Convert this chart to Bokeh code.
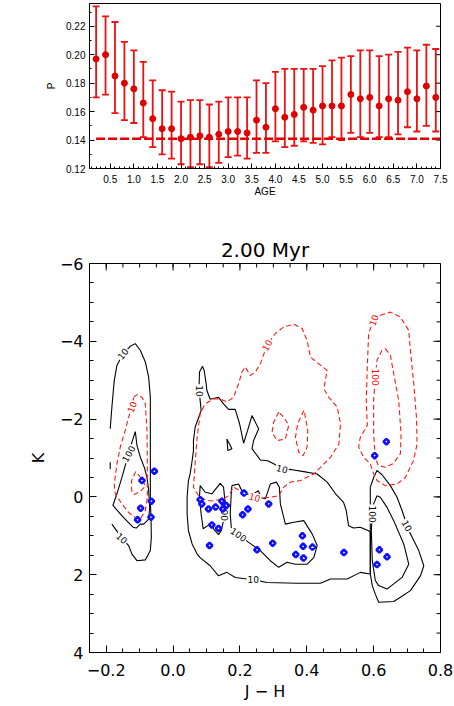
import numpy as np
from bokeh.plotting import figure
from bokeh.models import Range1d, FixedTicker, Whisker, ColumnDataSource, TeeHead
from bokeh.layouts import column
from bokeh.embed import file_html
from bokeh.resources import INLINE
from bokeh.core.properties import value

nan = float("nan")

# ---------------- top panel data ----------------
age = [0.2, 0.4, 0.6, 0.8, 1.0, 1.2, 1.4, 1.6, 1.8, 2.0, 2.2, 2.4, 2.6, 2.8, 3.0, 3.2, 3.4, 3.6, 3.8,
       4.0, 4.2, 4.4, 4.6, 4.8, 5.0, 5.2, 5.4, 5.6, 5.8, 6.0, 6.2, 6.4, 6.6, 6.8, 7.0, 7.2, 7.4]
p_mean = [0.197, 0.200, 0.185, 0.180, 0.176, 0.166, 0.155, 0.148, 0.148, 0.141, 0.142, 0.143, 0.142,
          0.144, 0.146, 0.146, 0.145, 0.154, 0.149, 0.162, 0.156, 0.158, 0.163, 0.161, 0.164, 0.164,
          0.164, 0.172, 0.169, 0.170, 0.164, 0.169, 0.168, 0.174, 0.169, 0.178, 0.170]
p_upper = [0.234, 0.227, 0.223, 0.209, 0.203, 0.195, 0.182, 0.175, 0.174, 0.167, 0.168, 0.168, 0.165,
           0.167, 0.170, 0.170, 0.170, 0.182, 0.180, 0.188, 0.190, 0.190, 0.190, 0.190, 0.192, 0.196,
           0.198, 0.199, 0.203, 0.203, 0.199, 0.200, 0.202, 0.205, 0.203, 0.207, 0.204]
p_lower = [0.170, 0.172, 0.159, 0.154, 0.152, 0.142, 0.135, 0.130, 0.127, 0.123, 0.121, 0.123, 0.121,
           0.124, 0.128, 0.129, 0.127, 0.131, 0.131, 0.139, 0.135, 0.136, 0.139, 0.138, 0.137, 0.142,
           0.140, 0.145, 0.142, 0.145, 0.142, 0.142, 0.144, 0.149, 0.146, 0.150, 0.146]
p_ref = 0.141
p_ref_x = [0.2, 7.5]
age_ticks = [0.5, 1.0, 1.5, 2.0, 2.5, 3.0, 3.5, 4.0, 4.5, 5.0, 5.5, 6.0, 6.5, 7.0, 7.5]
age_tick_labels = ["0.5", "1.0", "1.5", "2.0", "2.5", "3.0", "3.5", "4.0", "4.5", "5.0", "5.5",
                   "6.0", "6.5", "7.0", "7.5"]
p_ticks = [0.12, 0.14, 0.16, 0.18, 0.20, 0.22]
p_tick_labels = ["0.12", "0.14", "0.16", "0.18", "0.20", "0.22"]

# ---------------- bottom panel data ----------------
star_jh = [-0.056, -0.093, -0.065, -0.097, -0.066, -0.106,
           0.081, 0.086, 0.106, 0.127, 0.146, 0.149, 0.159, 0.116, 0.136, 0.109,
           0.212, 0.224, 0.208, 0.286, 0.251, 0.298, 0.387, 0.389, 0.417, 0.367, 0.390, 0.511,
           0.617, 0.640, 0.610, 0.603, 0.638]
star_k = [-0.66, -0.42, 0.11, 0.29, 0.52, 0.59,
          0.07, 0.18, 0.31, 0.26, 0.11, 0.31, 0.22, 0.72, 0.81, 1.25,
          -0.10, 0.31, 0.46, 0.18, 1.36, 1.19, 1.00, 1.27, 1.29, 1.48, 1.57, 1.43,
          1.36, 1.54, 1.74, -1.06, -1.42]

jh_ticks = [-0.2, 0.0, 0.2, 0.4, 0.6, 0.8]
jh_tick_labels = ["\u22120.2", "0.0", "0.2", "0.4", "0.6", "0.8"]
k_ticks = [-6, -4, -2, 0, 2, 4]
k_tick_labels = ["\u22126", "\u22124", "\u22122", "0", "2", "4"]

# black contours, levels 10 and 100
b10_left_x = [-0.183, -0.153, -0.133, -0.123, -0.108, -0.083, -0.068, -0.065, -0.066, -0.068, -0.068,
              -0.068, -0.068, -0.073, -0.083, -0.098, -0.113, -0.128, -0.150, -0.168, -0.176, -0.183,
              -0.188, nan, -0.188, -0.188]
b10_left_y = [0.70, 1.06, 1.25, 1.47, 1.64, 1.62, 1.38, 1.04, 0.53, 0.10, -0.68, -1.71, -2.56, -3.08,
              -3.47, -3.77, -3.94, -3.87, -3.68, -3.38, -2.99, -2.31, -1.75, nan, -0.89, -0.72]
b100_left_x = [-0.113, -0.108, -0.098, -0.086, -0.078, -0.073, -0.070, -0.073, -0.088, -0.098, -0.110,
               -0.120, -0.148, -0.180, -0.168, -0.153, -0.143, -0.133, -0.123, -0.113]
b100_left_y = [-1.68, -1.32, -1.02, -0.76, -0.50, -0.16, 0.27, 0.57, 0.70, 0.70, 0.80, 0.78, 0.53, 0.22,
               -0.08, -0.50, -0.81, -1.11, -1.41, -1.68]
b10_mid_x = [0.088, 0.093, 0.099, 0.101, 0.111, 0.136, 0.151, 0.166, 0.186, 0.199, 0.211, 0.223, 0.236,
             0.256, 0.241, 0.236, 0.261, 0.283, 0.301, 0.326, 0.356, 0.391, 0.431, 0.461, 0.486, 0.510,
             0.518, 0.525, 0.540, 0.560, 0.585, 0.590, 0.590, 0.560, 0.521, 0.471, 0.441, 0.371, 0.281,
             0.240, 0.186, 0.161, 0.136, 0.111, 0.081, 0.072, 0.057, 0.046, 0.042, 0.042, 0.046, 0.051,
             0.057, 0.061, 0.061, 0.066, 0.084, 0.081, 0.078, 0.078, 0.079, 0.088]
b10_mid_y = [-3.36, -3.25, -2.91, -2.74, -2.51, -2.56, -2.39, -2.25, -2.25, -1.88, -1.38, -1.71, -2.09,
             -1.75, -1.45, -1.24, -0.95, -0.93, -0.85, -0.72, -0.70, -0.65, -0.59, -0.38, -0.08, 0.14,
             0.35, 0.74, 0.80, 0.78, 0.87, 0.91, 1.98, 1.94, 2.11, 2.11, 2.22, 2.22, 2.20, 2.13, 2.07,
             1.94, 2.03, 1.77, 1.56, 1.47, 1.21, 0.87, 0.44, 0.01, -0.42, -0.59, -0.93, -1.19, -1.45,
             -1.79, -2.22, -2.48, -2.72, -2.91, -3.21, -3.36]
b10_tri_x = [0.161, 0.164, 0.176, 0.161]
b10_tri_y = [-1.49, -1.19, -1.24, -1.49]
b10_right_x = [0.590, 0.600, 0.610, 0.625, 0.650, 0.670, 0.685, 0.700, 0.710, 0.735, 0.750, 0.740, 0.710,
               0.680, 0.660, 0.615, 0.605, 0.596, 0.590, 0.590]
b10_right_y = [-0.25, -0.50, -0.68, -0.57, -0.29, 0.01, 0.35, 0.74, 0.95, 1.38, 1.77, 2.03, 2.41, 2.58,
               2.69, 2.71, 2.50, 2.28, 1.98, -0.25]
b100_a_x = [0.081, 0.096, 0.116, 0.141, 0.151, 0.156, 0.153, 0.151, 0.144, 0.136, 0.121, 0.111, 0.090,
            0.084, 0.079, 0.081]
b100_a_y = [-0.29, -0.12, -0.08, -0.35, -0.25, 0.18, 0.40, 0.61, 0.87, 0.97, 0.82, 0.70, 0.82, 0.44,
            0.01, -0.29]
b100_b_x = [0.176, 0.196, 0.210, 0.237, 0.255, 0.264, 0.276, 0.291, 0.309, 0.318, 0.321, 0.336, 0.361,
            0.391, 0.416, 0.431, 0.421, 0.401, 0.366, 0.341, 0.316, 0.291, 0.261, 0.226, 0.196, 0.174,
            0.171, 0.174, 0.176]
b100_b_y = [-0.29, -0.33, -0.08, -0.06, -0.16, 0.02, 0.05, -0.33, -0.38, -0.25, 0.18, 0.70, 0.65, 0.61,
            0.95, 1.25, 1.56, 1.73, 1.73, 1.68, 1.81, 1.64, 1.38, 1.17, 0.97, 0.78, 0.44, -0.08, -0.29]
b100_right_x = [0.610, 0.620, 0.640, 0.660, 0.690, 0.705, 0.685, 0.640, 0.615, 0.605, 0.596, 0.593,
                0.596, 0.600, 0.610]
b100_right_y = [-0.03, 0.01, 0.27, 0.61, 1.21, 1.73, 2.07, 2.37, 2.28, 2.15, 1.64, 0.87, 0.44, 0.18,
                -0.03]

# red dashed contours, levels 10 and 100
r10_left_x = [-0.118, -0.108, -0.093, -0.083, -0.078, -0.077, -0.077, -0.083, -0.098, -0.113, -0.133,
              -0.153, -0.173, -0.176, -0.168, -0.158, -0.143, -0.133, -0.123, -0.118]
r10_left_y = [-2.56, -2.63, -2.56, -2.39, -1.71, -0.86, 0.02, 0.35, 0.57, 0.53, 0.40, 0.18, -0.08,
              -0.33, -0.85, -1.28, -1.71, -2.05, -2.31, -2.56]
r100_left_x = [-0.112, -0.124, -0.124, -0.116, -0.098, -0.083, -0.092, -0.104, -0.112]
r100_left_y = [-0.65, -0.42, -0.16, -0.06, -0.14, -0.27, -0.45, -0.57, -0.65]
r10_mid_x = [0.121, 0.141, 0.161, 0.181, 0.196, 0.206, 0.216, 0.231, 0.246, 0.261, 0.281, 0.306, 0.331,
             0.361, 0.386, 0.401, 0.411, 0.436, 0.461, 0.451, 0.466, 0.491, 0.501, 0.496, 0.471, 0.441,
             0.421, 0.381, 0.351, 0.331, 0.316, 0.291, 0.261, 0.244, 0.201, 0.181, 0.166, 0.151, 0.121,
             0.101, 0.076, 0.061, 0.066, 0.072, 0.081, 0.096, 0.121]
r10_mid_y = [-2.52, -2.52, -2.44, -2.56, -2.91, -3.21, -3.34, -3.12, -3.21, -3.42, -3.90, -4.20, -4.37,
             -4.44, -4.33, -4.02, -3.59, -3.42, -3.25, -2.78, -2.56, -2.31, -1.88, -1.36, -1.02, -0.76,
             -0.59, -0.42, -0.38, -0.25, -0.03, 0.01, 0.03, 0.01, -0.16, -0.25, -0.03, 0.05, 0.10, 0.10,
             -0.03, -0.25, -0.85, -1.53, -2.14, -2.39, -2.52]
r_loop1_x = [0.316, 0.301, 0.296, 0.311, 0.336, 0.346, 0.331, 0.316]
r_loop1_y = [-2.18, -1.92, -1.66, -1.45, -1.49, -1.84, -2.05, -2.18]
r_loop2_x = [0.391, 0.373, 0.366, 0.376, 0.389, 0.401, 0.403, 0.393, 0.391]
r_loop2_y = [-2.22, -1.88, -1.53, -1.15, -1.06, -1.28, -1.71, -2.18, -2.22]
r10_right_x = [0.620, 0.650, 0.680, 0.705, 0.710, 0.720, 0.728, 0.730, 0.719, 0.695, 0.670, 0.635, 0.610,
               0.600, 0.590, 0.570, 0.555, 0.560, 0.581, 0.578, 0.581, 0.585, 0.600, 0.620]
r10_right_y = [-4.67, -4.75, -4.62, -4.28, -3.77, -2.91, -2.05, -1.36, -0.93, -0.50, -0.33, -0.29, -0.42,
               -0.59, -0.85, -1.02, -1.28, -1.53, -1.84, -2.48, -3.34, -4.20, -4.54, -4.67]
r100_right_x = [0.635, 0.650, 0.660, 0.675, 0.682, 0.680, 0.659, 0.635, 0.614, 0.605, 0.600, 0.600,
                0.605, 0.610, 0.625, 0.635]
r100_right_y = [-3.81, -3.64, -3.17, -2.48, -1.62, -1.11, -0.86, -0.76, -0.81, -0.99, -1.62, -2.48,
                -3.08, -3.51, -3.77, -3.81]

# contour level labels
lab_text = ["10", "10", "100", "10", "10", "10", "100", "100", "10", "100",
            "10", "10", "10", "10", "100"]
lab_x = [-0.150, -0.153, -0.133, 0.078, 0.326, 0.240, 0.153, 0.196, 0.700, 0.596,
         -0.123, 0.281, 0.244, 0.600, 0.605]
lab_y = [-3.68, 1.06, -1.11, -2.72, -0.72, 2.13, 0.40, 0.97, 0.74, 0.44,
         -2.31, -3.90, 0.01, -4.54, -3.08]
lab_angle = [50, -42, 60, -90, -15, 0, -90, -35, -62, -90,
             70, 60, -15, 70, -90]
lab_color = ["black"] * 10 + ["red"] * 5


# ---------------- helpers ----------------
def style_axis(ax, font, size, tick_in, minor_in):
    ax.major_tick_in = tick_in
    ax.major_tick_out = 0
    ax.minor_tick_in = minor_in
    ax.minor_tick_out = 0
    ax.axis_line_color = "black"
    ax.major_tick_line_color = "black"
    ax.minor_tick_line_color = "black"
    ax.major_label_text_font = font
    ax.major_label_text_font_size = size
    ax.major_label_text_color = "black"
    ax.axis_label_text_font = font
    ax.axis_label_text_font_style = "normal"
    ax.axis_label_text_color = "black"


# ---------------- top figure ----------------
F1 = "Liberation Sans"
W = 454
H1, H2 = 200, 506
x1r = (0.06, 7.5)
y1r = (0.12, 0.236)
B1 = dict(left=42, right=12, top=3, bottom=32)
p1 = figure(width=W, height=H1, x_range=Range1d(*x1r), y_range=Range1d(*y1r),
            output_backend="svg", toolbar_location=None,
            min_border_left=B1["left"], min_border_right=B1["right"],
            min_border_top=B1["top"], min_border_bottom=B1["bottom"])
p1.grid.visible = False
p1.outline_line_color = "black"

p1.xaxis.ticker = FixedTicker(ticks=age_ticks, minor_ticks=list(np.round(np.arange(0.1, 7.5, 0.1), 2)))
p1.xaxis.major_label_overrides = dict(zip(age_ticks, age_tick_labels))
p1.yaxis.ticker = FixedTicker(ticks=p_ticks, minor_ticks=list(np.round(np.arange(0.12, 0.236, 0.01), 3)))
p1.yaxis.major_label_overrides = dict(zip(p_ticks, p_tick_labels))
style_axis(p1.xaxis[0], F1, "10px", 5, 2)
style_axis(p1.yaxis[0], F1, "10px", 5, 2)
p1.xaxis.axis_label = "AGE"
p1.yaxis.axis_label = "P"
p1.xaxis.axis_label_text_font_size = "10px"
p1.yaxis.axis_label_text_font_size = "10px"
p1.xaxis.major_label_standoff = 6
p1.xaxis.axis_label_standoff = 0
p1.yaxis.major_label_standoff = 4
p1.yaxis.axis_label_standoff = 6

# inward tick marks on the right edge (mirror of the left axis)
fw1 = W - B1["left"] - B1["right"]
tick1 = 5 * (x1r[1] - x1r[0]) / fw1
p1.segment(x0=[x1r[1]] * len(p_ticks), y0=p_ticks, x1=[x1r[1] - tick1] * len(p_ticks), y1=p_ticks,
           line_color="black", line_width=1)

red = "#ee1111"
src = ColumnDataSource(dict(x=age, mean=p_mean, upper=p_upper, lower=p_lower))
p1.add_layout(Whisker(source=src, base="x", upper="upper", lower="lower",
                      line_color=red, line_width=1.8,
                      upper_head=TeeHead(size=7, line_color=red, line_width=1.8),
                      lower_head=TeeHead(size=7, line_color=red, line_width=1.8)))
p1.scatter("x", "mean", source=src, size=6, color="#e00000")
p1.line(p_ref_x, [p_ref, p_ref], line_dash="9 3", line_width=2.5, color="#e00000")

# ---------------- bottom figure ----------------
F2 = "DejaVu Sans"
x2r = (-0.25, 0.8)
y2r = (4, -6)
B2 = dict(left=89, right=14, top=63, bottom=54)
p2 = figure(width=W, height=H2, x_range=Range1d(*x2r), y_range=Range1d(*y2r),
            output_backend="svg", toolbar_location=None,
            min_border_left=B2["left"], min_border_right=B2["right"],
            min_border_top=B2["top"], min_border_bottom=B2["bottom"])
p2.grid.visible = False
p2.outline_line_color = "black"
p2.title.text = "2.00 Myr"
p2.title.align = "center"
p2.title.text_font = F2
p2.title.text_font_size = "20px"
p2.title.text_font_style = "normal"
p2.title.text_color = "black"
p2.title.standoff = 4

jh_minor = list(np.round(np.arange(-0.25, 0.801, 0.05), 3))
k_minor = list(np.round(np.arange(-6, 4.01, 0.5), 2))
p2.xaxis.ticker = FixedTicker(ticks=jh_ticks, minor_ticks=jh_minor)
p2.xaxis.major_label_overrides = dict(zip(jh_ticks, jh_tick_labels))
p2.yaxis.ticker = FixedTicker(ticks=k_ticks, minor_ticks=k_minor)
p2.yaxis.major_label_overrides = dict(zip(k_ticks, k_tick_labels))
style_axis(p2.xaxis[0], F2, "16px", 7, 4)
style_axis(p2.yaxis[0], F2, "16px", 7, 4)
p2.xaxis.axis_label = "J \u2212 H"
p2.yaxis.axis_label = "K"
p2.xaxis.axis_label_text_font_size = "16px"
p2.yaxis.axis_label_text_font_size = "16px"
p2.xaxis.major_label_standoff = 11
p2.xaxis.axis_label_standoff = 3
p2.yaxis.major_label_standoff = 6
p2.yaxis.axis_label_standoff = 9

# inward tick marks on the top and right edges
fw2 = W - B2["left"] - B2["right"]
fh2 = H2 - B2["top"] - B2["bottom"]
ux = (x2r[1] - x2r[0]) / fw2
uy = (y2r[0] - y2r[1]) / fh2
top_y = y2r[1]
right_x = x2r[1]
p2.segment(x0=jh_ticks, y0=[top_y] * len(jh_ticks), x1=jh_ticks, y1=[top_y + 7 * uy] * len(jh_ticks),
           line_color="black", line_width=1)
p2.segment(x0=jh_minor, y0=[top_y] * len(jh_minor), x1=jh_minor, y1=[top_y + 4 * uy] * len(jh_minor),
           line_color="black", line_width=1)
p2.segment(x0=[right_x] * len(k_ticks), y0=k_ticks, x1=[right_x - 7 * ux] * len(k_ticks), y1=k_ticks,
           line_color="black", line_width=1)
p2.segment(x0=[right_x] * len(k_minor), y0=k_minor, x1=[right_x - 4 * ux] * len(k_minor), y1=k_minor,
           line_color="black", line_width=1)

black_contours = [(b10_left_x, b10_left_y), (b100_left_x, b100_left_y), (b10_mid_x, b10_mid_y),
                  (b10_tri_x, b10_tri_y), (b10_right_x, b10_right_y), (b100_a_x, b100_a_y),
                  (b100_b_x, b100_b_y), (b100_right_x, b100_right_y)]
red_contours = [(r10_left_x, r10_left_y), (r100_left_x, r100_left_y), (r10_mid_x, r10_mid_y),
                (r_loop1_x, r_loop1_y), (r_loop2_x, r_loop2_y), (r10_right_x, r10_right_y),
                (r100_right_x, r100_right_y)]
for xs, ys in black_contours:
    p2.line(xs, ys, line_color="black", line_width=1.1)
for xs, ys in red_contours:
    p2.line(xs, ys, line_color="#ff1a1a", line_width=1.1, line_dash="5 3")

lab_src = ColumnDataSource(dict(x=lab_x, y=lab_y, text=lab_text,
                                angle=[np.deg2rad(a) for a in lab_angle], color=lab_color))
p2.text("x", "y", text="text", angle="angle", source=lab_src, text_color="color",
        text_font=value(F2), text_font_size="9px", text_align="center", text_baseline="middle",
        background_fill_color="white", padding=1)

p2.scatter(star_jh, star_k, marker="square", angle=np.pi / 4, size=4, line_color="#1010ff",
           line_width=2.6, fill_color="white")

layout = column(p1, p2, spacing=0)
open("out.html", "w").write(file_html(layout, INLINE))
